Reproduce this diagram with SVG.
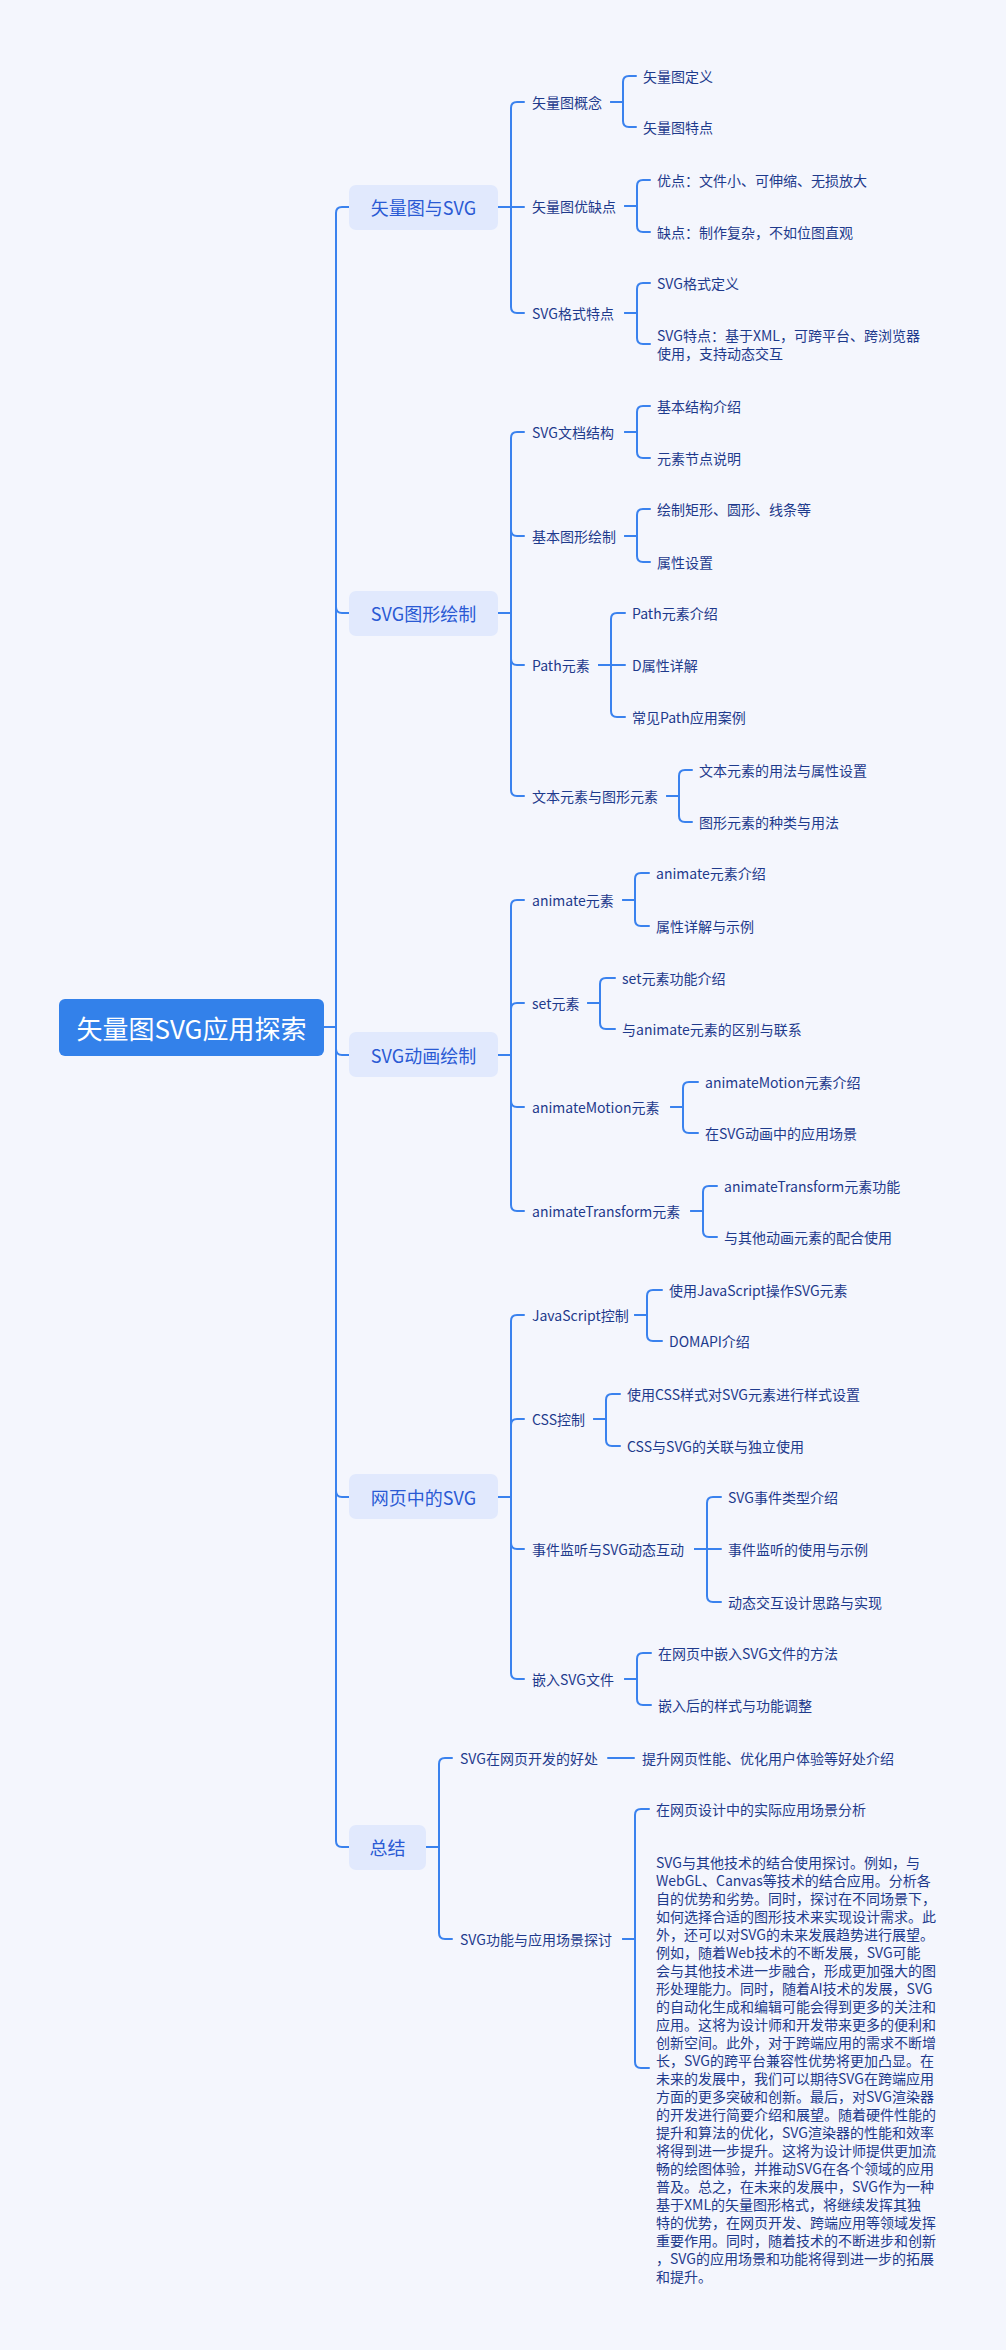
<svg xmlns="http://www.w3.org/2000/svg" width="1006" height="2350" viewBox="0 0 1006 2350">
<style>
text{font-family:"Noto Sans CJK SC","Noto Sans",sans-serif;dominant-baseline:central}
.root{fill:#fff;font-size:26px;text-anchor:middle}
.l1{fill:#2a5ad4;font-size:18px;text-anchor:middle}
.t{fill:#1e3a8c;font-size:14px}
.box1{fill:#e1e9fd}
.rootbox{fill:#3381ea}
.c path{fill:none;stroke:#3a82ee;stroke-width:2;stroke-linecap:round}
</style>
<rect width="1006" height="2350" fill="#f4f6fd"/>
<g class="c" id="connectors">
<!-- root to L1 -->
<path d="M324 1027 H336 V213 Q336 207 342 207 H349"/>
<path d="M324 1027 H336 V607 Q336 613 342 613 H349"/>
<path d="M324 1027 H336 V1049 Q336 1055 342 1055 H349"/>
<path d="M324 1027 H336 V1491 Q336 1497 342 1497 H349"/>
<path d="M324 1027 H336 V1841 Q336 1847 342 1847 H349"/>
<!-- group 1 -->
<path d="M498 207 H511 V108 Q511 102 517 102 H524"/>
<path d="M498 207 H524"/>
<path d="M498 207 H511 V307 Q511 313 517 313 H524"/>
<path d="M611 102 H623 V82 Q623 76 629 76 H636"/>
<path d="M611 102 H623 V121 Q623 127 629 127 H636"/>
<path d="M625 206 H637 V186 Q637 180 643 180 H650"/>
<path d="M625 206 H637 V226 Q637 232 643 232 H650"/>
<path d="M625 313 H637 V289 Q637 283 643 283 H650"/>
<path d="M625 313 H637 V338 Q637 344 643 344 H650"/>
<!-- group 2 -->
<path d="M498 613 H511 V438 Q511 432 517 432 H524"/>
<path d="M498 613 H511 V530 Q511 536 517 536 H524"/>
<path d="M498 613 H511 V659 Q511 665 517 665 H524"/>
<path d="M498 613 H511 V790 Q511 796 517 796 H524"/>
<path d="M625 432 H637 V412 Q637 406 643 406 H650"/>
<path d="M625 432 H637 V452 Q637 458 643 458 H650"/>
<path d="M625 536 H637 V515 Q637 509 643 509 H650"/>
<path d="M625 536 H637 V556 Q637 562 643 562 H650"/>
<path d="M599 665 H611 V619 Q611 613 617 613 H625"/>
<path d="M599 665 H625"/>
<path d="M599 665 H611 V711 Q611 717 617 717 H625"/>
<path d="M667 796 H679 V776 Q679 770 685 770 H692"/>
<path d="M667 796 H679 V816 Q679 822 685 822 H692"/>
<!-- group 3 -->
<path d="M498 1055 H511 V906 Q511 900 517 900 H524"/>
<path d="M498 1055 H511 V1009 Q511 1003 517 1003 H524"/>
<path d="M498 1055 H511 V1101 Q511 1107 517 1107 H524"/>
<path d="M498 1055 H511 V1205 Q511 1211 517 1211 H524"/>
<path d="M623 900 H635 V879 Q635 873 641 873 H649"/>
<path d="M623 900 H635 V920 Q635 926 641 926 H649"/>
<path d="M588 1003 H600 V984 Q600 978 606 978 H615"/>
<path d="M588 1003 H600 V1023 Q600 1029 606 1029 H615"/>
<path d="M671 1107 H683 V1088 Q683 1082 689 1082 H698"/>
<path d="M671 1107 H683 V1127 Q683 1133 689 1133 H698"/>
<path d="M691 1211 H703 V1192 Q703 1186 709 1186 H717"/>
<path d="M691 1211 H703 V1231 Q703 1237 709 1237 H717"/>
<!-- group 4 -->
<path d="M498 1497 H511 V1321 Q511 1315 517 1315 H524"/>
<path d="M498 1497 H511 V1425 Q511 1419 517 1419 H524"/>
<path d="M498 1497 H511 V1543 Q511 1549 517 1549 H524"/>
<path d="M498 1497 H511 V1673 Q511 1679 517 1679 H524"/>
<path d="M635 1315 H647 V1296 Q647 1290 653 1290 H662"/>
<path d="M635 1315 H647 V1335 Q647 1341 653 1341 H662"/>
<path d="M594 1419 H606 V1400 Q606 1394 612 1394 H620"/>
<path d="M594 1419 H606 V1440 Q606 1446 612 1446 H620"/>
<path d="M695 1549 H707 V1503 Q707 1497 713 1497 H721"/>
<path d="M695 1549 H721"/>
<path d="M695 1549 H707 V1596 Q707 1602 713 1602 H721"/>
<path d="M625 1679 H637 V1659 Q637 1653 643 1653 H651"/>
<path d="M625 1679 H637 V1699 Q637 1705 643 1705 H651"/>
<!-- group 5 -->
<path d="M426 1847 H439 V1764 Q439 1758 445 1758 H452"/>
<path d="M426 1847 H439 V1933 Q439 1939 445 1939 H452"/>
<path d="M608 1758 H634"/>
<path d="M623 1939 H635 V1815 Q635 1809 641 1809 H649"/>
<path d="M623 1939 H635 V2062 Q635 2068 641 2068 H649"/>
</g>
<g id="root">
<rect class="rootbox" x="59" y="999" width="265" height="57" rx="6"/>
<text class="root" x="191.5" y="1027">矢量图SVG应用探索</text>
</g>
<g id="n1">
<rect class="box1" x="349" y="185" width="149" height="45" rx="7"/>
<text class="l1" x="423.5" y="207">矢量图与SVG</text>
</g>
<g id="n1-1"><text class="t" x="532" y="102">矢量图概念</text></g>
<g id="n1-1-1"><text class="t" x="643" y="76">矢量图定义</text></g>
<g id="n1-1-2"><text class="t" x="643" y="127">矢量图特点</text></g>
<g id="n1-2"><text class="t" x="532" y="206">矢量图优缺点</text></g>
<g id="n1-2-1"><text class="t" x="657" y="180">优点：文件小、可伸缩、无损放大</text></g>
<g id="n1-2-2"><text class="t" x="657" y="232">缺点：制作复杂，不如位图直观</text></g>
<g id="n1-3"><text class="t" x="532" y="313">SVG格式特点</text></g>
<g id="n1-3-1"><text class="t" x="657" y="283">SVG格式定义</text></g>
<g id="n1-3-2"><text class="t" x="657" y="335">SVG特点：基于XML，可跨平台、跨浏览器</text><text class="t" x="657" y="353">使用，支持动态交互</text></g>

<g id="n2">
<rect class="box1" x="349" y="591" width="149" height="45" rx="7"/>
<text class="l1" x="423.5" y="613">SVG图形绘制</text>
</g>
<g id="n2-1"><text class="t" x="532" y="432">SVG文档结构</text></g>
<g id="n2-1-1"><text class="t" x="657" y="406">基本结构介绍</text></g>
<g id="n2-1-2"><text class="t" x="657" y="458">元素节点说明</text></g>
<g id="n2-2"><text class="t" x="532" y="536">基本图形绘制</text></g>
<g id="n2-2-1"><text class="t" x="657" y="509">绘制矩形、圆形、线条等</text></g>
<g id="n2-2-2"><text class="t" x="657" y="562">属性设置</text></g>
<g id="n2-3"><text class="t" x="532" y="665">Path元素</text></g>
<g id="n2-3-1"><text class="t" x="632" y="613">Path元素介绍</text></g>
<g id="n2-3-2"><text class="t" x="632" y="665">D属性详解</text></g>
<g id="n2-3-3"><text class="t" x="632" y="717">常见Path应用案例</text></g>
<g id="n2-4"><text class="t" x="532" y="796">文本元素与图形元素</text></g>
<g id="n2-4-1"><text class="t" x="699" y="770">文本元素的用法与属性设置</text></g>
<g id="n2-4-2"><text class="t" x="699" y="822">图形元素的种类与用法</text></g>

<g id="n3">
<rect class="box1" x="349" y="1032" width="149" height="45" rx="7"/>
<text class="l1" x="423.5" y="1055">SVG动画绘制</text>
</g>
<g id="n3-1"><text class="t" x="532" y="900">animate元素</text></g>
<g id="n3-1-1"><text class="t" x="656" y="873">animate元素介绍</text></g>
<g id="n3-1-2"><text class="t" x="656" y="926">属性详解与示例</text></g>
<g id="n3-2"><text class="t" x="532" y="1003">set元素</text></g>
<g id="n3-2-1"><text class="t" x="622" y="978">set元素功能介绍</text></g>
<g id="n3-2-2"><text class="t" x="622" y="1029">与animate元素的区别与联系</text></g>
<g id="n3-3"><text class="t" x="532" y="1107">animateMotion元素</text></g>
<g id="n3-3-1"><text class="t" x="705" y="1082">animateMotion元素介绍</text></g>
<g id="n3-3-2"><text class="t" x="705" y="1133">在SVG动画中的应用场景</text></g>
<g id="n3-4"><text class="t" x="532" y="1211">animateTransform元素</text></g>
<g id="n3-4-1"><text class="t" x="724" y="1186">animateTransform元素功能</text></g>
<g id="n3-4-2"><text class="t" x="724" y="1237">与其他动画元素的配合使用</text></g>

<g id="n4">
<rect class="box1" x="349" y="1474" width="149" height="45" rx="7"/>
<text class="l1" x="423.5" y="1497">网页中的SVG</text>
</g>
<g id="n4-1"><text class="t" x="532" y="1315">JavaScript控制</text></g>
<g id="n4-1-1"><text class="t" x="669" y="1290">使用JavaScript操作SVG元素</text></g>
<g id="n4-1-2"><text class="t" x="669" y="1341">DOMAPI介绍</text></g>
<g id="n4-2"><text class="t" x="532" y="1419">CSS控制</text></g>
<g id="n4-2-1"><text class="t" x="627" y="1394">使用CSS样式对SVG元素进行样式设置</text></g>
<g id="n4-2-2"><text class="t" x="627" y="1446">CSS与SVG的关联与独立使用</text></g>
<g id="n4-3"><text class="t" x="532" y="1549">事件监听与SVG动态互动</text></g>
<g id="n4-3-1"><text class="t" x="728" y="1497">SVG事件类型介绍</text></g>
<g id="n4-3-2"><text class="t" x="728" y="1549">事件监听的使用与示例</text></g>
<g id="n4-3-3"><text class="t" x="728" y="1602">动态交互设计思路与实现</text></g>
<g id="n4-4"><text class="t" x="532" y="1679">嵌入SVG文件</text></g>
<g id="n4-4-1"><text class="t" x="658" y="1653">在网页中嵌入SVG文件的方法</text></g>
<g id="n4-4-2"><text class="t" x="658" y="1705">嵌入后的样式与功能调整</text></g>

<g id="n5">
<rect class="box1" x="349" y="1825" width="77" height="45" rx="7"/>
<text class="l1" x="387.5" y="1847">总结</text>
</g>
<g id="n5-1"><text class="t" x="460" y="1758">SVG在网页开发的好处</text></g>
<g id="n5-1-1"><text class="t" x="642" y="1758">提升网页性能、优化用户体验等好处介绍</text></g>
<g id="n5-2"><text class="t" x="460" y="1939">SVG功能与应用场景探讨</text></g>
<g id="n5-2-1"><text class="t" x="656" y="1809">在网页设计中的实际应用场景分析</text></g>
<g id="n5-2-2">
<text class="t" x="656" y="1862">SVG与其他技术的结合使用探讨。例如，与</text>
<text class="t" x="656" y="1880">WebGL、Canvas等技术的结合应用。分析各</text>
<text class="t" x="656" y="1898">自的优势和劣势。同时，探讨在不同场景下，</text>
<text class="t" x="656" y="1916">如何选择合适的图形技术来实现设计需求。此</text>
<text class="t" x="656" y="1934">外，还可以对SVG的未来发展趋势进行展望。</text>
<text class="t" x="656" y="1952">例如，随着Web技术的不断发展，SVG可能</text>
<text class="t" x="656" y="1970">会与其他技术进一步融合，形成更加强大的图</text>
<text class="t" x="656" y="1988">形处理能力。同时，随着AI技术的发展，SVG</text>
<text class="t" x="656" y="2006">的自动化生成和编辑可能会得到更多的关注和</text>
<text class="t" x="656" y="2024">应用。这将为设计师和开发带来更多的便利和</text>
<text class="t" x="656" y="2042">创新空间。此外，对于跨端应用的需求不断增</text>
<text class="t" x="656" y="2060">长，SVG的跨平台兼容性优势将更加凸显。在</text>
<text class="t" x="656" y="2078">未来的发展中，我们可以期待SVG在跨端应用</text>
<text class="t" x="656" y="2096">方面的更多突破和创新。最后，对SVG渲染器</text>
<text class="t" x="656" y="2114">的开发进行简要介绍和展望。随着硬件性能的</text>
<text class="t" x="656" y="2132">提升和算法的优化，SVG渲染器的性能和效率</text>
<text class="t" x="656" y="2150">将得到进一步提升。这将为设计师提供更加流</text>
<text class="t" x="656" y="2168">畅的绘图体验，并推动SVG在各个领域的应用</text>
<text class="t" x="656" y="2186">普及。总之，在未来的发展中，SVG作为一种</text>
<text class="t" x="656" y="2204">基于XML的矢量图形格式，将继续发挥其独</text>
<text class="t" x="656" y="2222">特的优势，在网页开发、跨端应用等领域发挥</text>
<text class="t" x="656" y="2240">重要作用。同时，随着技术的不断进步和创新</text>
<text class="t" x="656" y="2258">，SVG的应用场景和功能将得到进一步的拓展</text>
<text class="t" x="656" y="2276">和提升。</text>
</g>
</svg>
